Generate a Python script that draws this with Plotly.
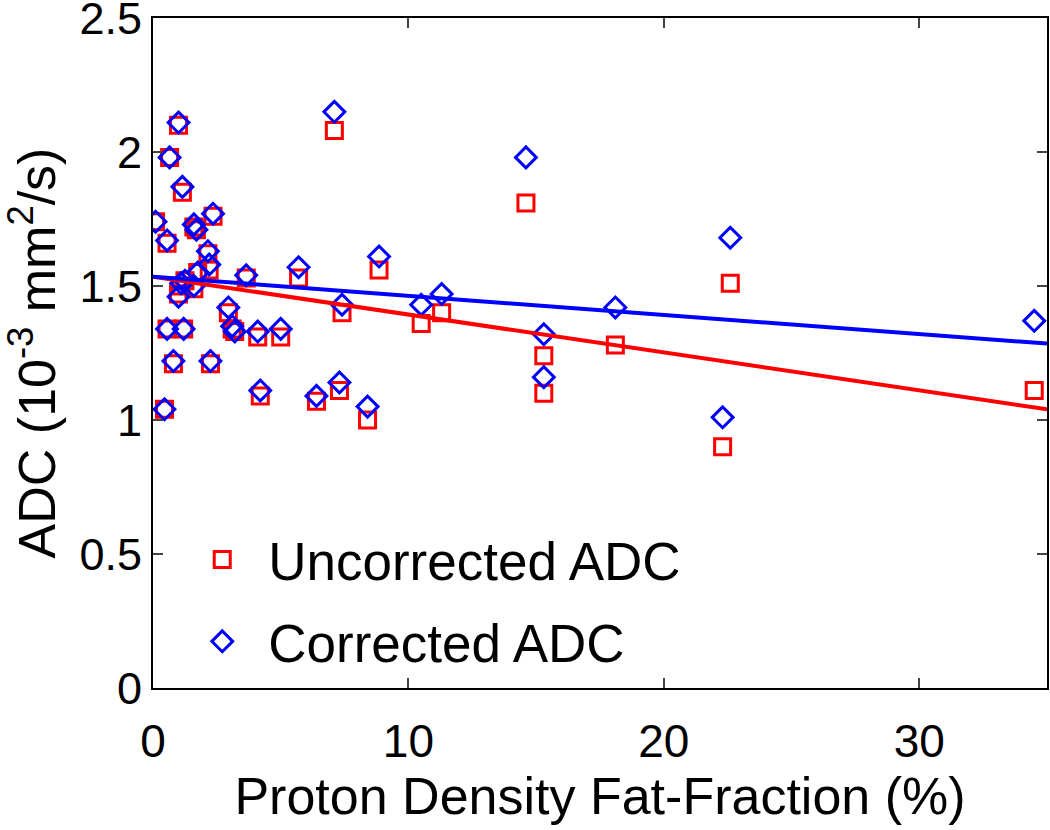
import plotly.graph_objects as go

# Proton density fat-fraction (%)
pdff = [0.1, 0.65, 1.0, 1.15, 0.55, 1.6, 1.7, 2.35, 2.15, 2.2, 1.75, 1.25, 1.0, 1.6, 1.1,
        3.65, 5.7, 2.95, 3.1, 3.2, 4.1, 5.0, 0.55, 1.2, 0.8, 2.25, 0.45, 4.2, 6.4, 7.3,
        8.4, 7.1, 8.85, 7.4, 10.5, 11.3, 14.6, 15.3, 15.3, 18.1, 22.6, 22.3, 34.5]
# Uncorrected ADC (10^-3 mm^2/s)
adc_uncorrected = [1.74, 1.98, 2.10, 1.85, 1.66, 1.72, 1.71, 1.76, 1.62, 1.56, 1.55, 1.52, 1.47, 1.49, 1.50,
                   1.53, 1.53, 1.40, 1.34, 1.33, 1.31, 1.31, 1.34, 1.34, 1.21, 1.21, 1.04, 1.09, 1.07, 1.11,
                   1.00, 2.08, 1.56, 1.40, 1.36, 1.40, 1.81, 1.24, 1.10, 1.28, 1.51, 0.90, 1.11]
# Corrected ADC (10^-3 mm^2/s)
adc_corrected = [1.74, 1.98, 2.11, 1.87, 1.67, 1.73, 1.71, 1.77, 1.63, 1.58, 1.55, 1.52, 1.46, 1.50, 1.51,
                 1.54, 1.57, 1.42, 1.35, 1.33, 1.33, 1.34, 1.34, 1.34, 1.22, 1.22, 1.04, 1.11, 1.09, 1.14,
                 1.05, 2.15, 1.61, 1.43, 1.43, 1.47, 1.98, 1.32, 1.16, 1.42, 1.68, 1.01, 1.37]
# Linear fit lines (end points)
fit_x = [0, 35]
fit_uncorrected = [1.535, 1.04]
fit_corrected = [1.535, 1.285]

x_ticks = [0, 10, 20, 30]
y_ticks = [0, 0.5, 1, 1.5, 2, 2.5]
y_tick_labels = ["0", "0.5", "1", "1.5", "2", "2.5"]

RED = "#FF0000"
BLUE = "#0000FF"
FONT = "Liberation Sans, Arial, sans-serif"

fig = go.Figure()
fig.add_trace(go.Scatter(x=pdff, y=adc_uncorrected, mode="markers", name="Uncorrected ADC",
                         legendgroup="u",
                         marker=dict(symbol="square-open", size=16, color=RED, line=dict(width=3, color=RED))))
fig.add_trace(go.Scatter(x=pdff, y=adc_corrected, mode="markers", name="Corrected ADC",
                         legendgroup="c",
                         marker=dict(symbol="diamond-open", size=16, color=BLUE, line=dict(width=3, color=BLUE))))
fig.add_trace(go.Scatter(x=fit_x, y=fit_uncorrected, mode="lines", showlegend=False,
                         line=dict(color=RED, width=4)))
fig.add_trace(go.Scatter(x=fit_x, y=fit_corrected, mode="lines", showlegend=False,
                         line=dict(color=BLUE, width=4)))

fig.update_layout(
    width=1050, height=830,
    margin=dict(l=153, r=3, t=18, b=142, autoexpand=False),
    paper_bgcolor="white", plot_bgcolor="white",
    font=dict(family=FONT, size=46, color="black"),
    legend=dict(x=0.026, y=0.253, xanchor="left", yanchor="top", traceorder="grouped",
                tracegroupgap=10, bgcolor="rgba(0,0,0,0)", font=dict(size=53), itemwidth=82),
)
fig.update_xaxes(range=[0, 35], tickvals=x_ticks, ticks="inside", ticklen=10, tickwidth=2,
                 showline=True, linecolor="black", linewidth=2, mirror="ticks", showgrid=False,
                 zeroline=False, tickfont=dict(size=46), automargin=False, ticklabelstandoff=12,
                 ticklabeloverflow="allow",
                 title=dict(text="Proton Density Fat-Fraction (%)", font=dict(size=52), standoff=6))
fig.update_yaxes(range=[0, 2.5001], tickvals=y_ticks, ticktext=y_tick_labels, ticks="inside", ticklen=10,
                 tickwidth=2, showline=True, linecolor="black", linewidth=2, mirror="ticks",
                 showgrid=False, zeroline=False, tickfont=dict(size=45), automargin=False,
                 ticklabeloverflow="allow",
                 title=dict(text="ADC (10<sup>-3</sup> mm<sup>2</sup>/s)", font=dict(size=52), standoff=27))

fig.write_html("out.html", config={"displayModeBar": False},
               post_script="document.body.style.margin='0px';")
